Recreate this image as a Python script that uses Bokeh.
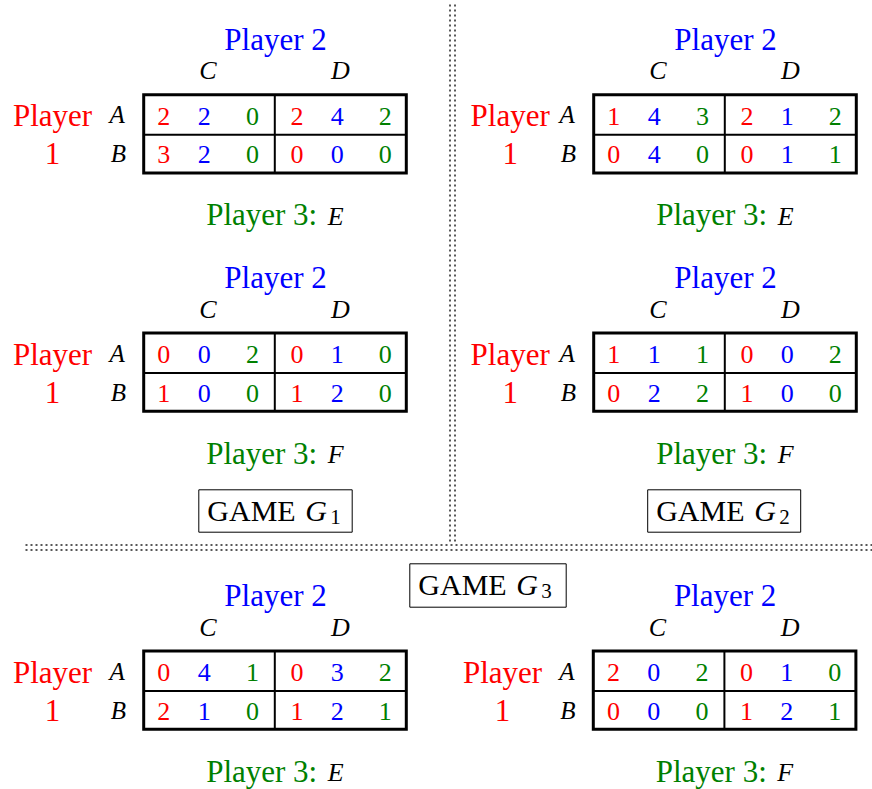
from bokeh.plotting import figure
from bokeh.models import Range1d
from bokeh.core.properties import value
from bokeh.embed import file_html
from bokeh.resources import INLINE

# ---------------- data ----------------
player_names = ["Player", "1", "Player 2", "Player 3:"]
row_strategies = ["A", "B"]          # Player 1
col_strategies = ["C", "D"]          # Player 2
p3_strategies = ["E", "F"]           # Player 3
game_labels = ["1", "2", "3"]        # G_1, G_2, G_3

# payoffs[row][col] = (payoff P1, payoff P2, payoff P3)
g1_E = [[(2, 2, 0), (2, 4, 2)], [(3, 2, 0), (0, 0, 0)]]
g1_F = [[(0, 0, 2), (0, 1, 0)], [(1, 0, 0), (1, 2, 0)]]
g2_E = [[(1, 4, 3), (2, 1, 2)], [(0, 4, 0), (0, 1, 1)]]
g2_F = [[(1, 1, 1), (0, 0, 2)], [(0, 2, 2), (1, 0, 0)]]
g3_E = [[(0, 4, 1), (0, 3, 2)], [(2, 1, 0), (1, 2, 1)]]
g3_F = [[(2, 0, 2), (0, 1, 0)], [(0, 0, 0), (1, 2, 1)]]

# ---------------- style ----------------
FONT = "Liberation Serif"
RED, BLUE, GREEN, BLACK = "#ff0000", "#0000ff", "#008000", "#000000"
PLAYER_COLORS = [RED, BLUE, GREEN]

W, H = 872, 789
p = figure(width=W, height=H, x_range=Range1d(0, W), y_range=Range1d(H, 0),
           output_backend="svg", toolbar_location=None, min_border=0,
           x_axis_type=None, y_axis_type=None)
p.grid.visible = False
p.outline_line_color = None
p.background_fill_color = "white"
p.border_fill_color = "white"

# panel layout: (payoffs, p3 strategy index, table left, table top, player1 label centre)
panels = [
    (g1_E, 0, 141.7, 92.7, 52.0),
    (g1_F, 1, 141.7, 331.0, 52.0),
    (g2_E, 0, 591.7, 92.7, 509.7),
    (g2_F, 1, 591.7, 331.0, 509.7),
    (g3_E, 0, 141.7, 649.0, 52.0),
    (g3_F, 1, 591.3, 649.0, 502.0),
]

digit_dx = [[21.6, 62.0, 110.3], [154.7, 195.0, 243.0]]
row_base_dy = [32.3, 70.6]
col_label_dx = [65.6, 198.3]
row_label_dx = [-25.0, -23.8]
row_label_dy = [30.0, 69.0]

BASELINE_FIX = 0.34  # renderer places 'alphabetic' text lower by ~0.34 em


def txt(x, y, t, color, size, style="normal", align="center"):
    p.text(x=[x], y=[y - BASELINE_FIX * size], text=[t], text_color=color,
           text_font=value(FONT), text_font_size=value(f"{size}px"),
           text_font_style=style, text_align=align, text_baseline="alphabetic")


for pay, s3, x0, y0, p1x in panels:
    # table frame
    p.quad(left=[x0 + 1.5], right=[x0 + 264.1], top=[y0 + 1.5], bottom=[y0 + 79.8],
           fill_color=None, line_color=BLACK, line_width=3, line_join="miter")
    p.segment(x0=[x0 + 132.6, x0 + 1.5], y0=[y0 + 1.5, y0 + 41.6],
              x1=[x0 + 132.6, x0 + 264.1], y1=[y0 + 79.8, y0 + 41.6],
              line_color=BLACK, line_width=2)
    # player labels
    txt(x0 + 133.3, y0 - 43.4, player_names[2], BLUE, 31)
    for j, c in enumerate(col_strategies):
        txt(x0 + col_label_dx[j], y0 - 13.4, c, BLACK, 26, "italic")
    txt(p1x, y0 + 33.3, player_names[0], RED, 31)
    txt(p1x, y0 + 71.3, player_names[1], RED, 31)
    for i, r in enumerate(row_strategies):
        txt(x0 + row_label_dx[i], y0 + row_label_dy[i], r, BLACK, 25, "italic")
    # payoffs
    for i in range(2):
        for j in range(2):
            for k in range(3):
                txt(x0 + digit_dx[j][k], y0 + row_base_dy[i], str(pay[i][j][k]),
                    PLAYER_COLORS[k], 26)
    # player 3 line
    txt(x0 + 175.0, y0 + 132.3, player_names[3], GREEN, 31, align="right")
    txt(x0 + 185.5, y0 + 132.3, p3_strategies[s3], BLACK, 26, "italic", align="left")

# game boxes: (label index, left, top, width, height)
boxes = [
    (0, 198.3, 489.3, 153.4, 42.4),
    (1, 647.2, 489.3, 153.0, 42.4),
    (2, 409.3, 563.3, 156.4, 43.4),
]
for gi, bl, bt, bw, bh in boxes:
    p.quad(left=[bl], right=[bl + bw], top=[bt], bottom=[bt + bh],
           fill_color=None, line_color=BLACK, line_width=1)
    base = bt + 30.5
    txt(bl + 8.5, base, "GAME", BLACK, 30, align="left")
    txt(bl + 106.5, base, "G", BLACK, 30, "italic", align="left")
    txt(bl + 131.5, base + 4, game_labels[gi], BLACK, 21, align="left")

# dotted separators (double)
for xv in (449.5, 454.5):
    p.segment(x0=[xv], y0=[4], x1=[xv], y1=[542], line_color="#222222",
              line_width=1.5, line_dash="2 3")
for yv in (544.5, 549.5):
    p.segment(x0=[25], y0=[yv], x1=[872], y1=[yv], line_color="#222222",
              line_width=1.5, line_dash="2 3")

open("out.html", "w").write(file_html(p, INLINE))
